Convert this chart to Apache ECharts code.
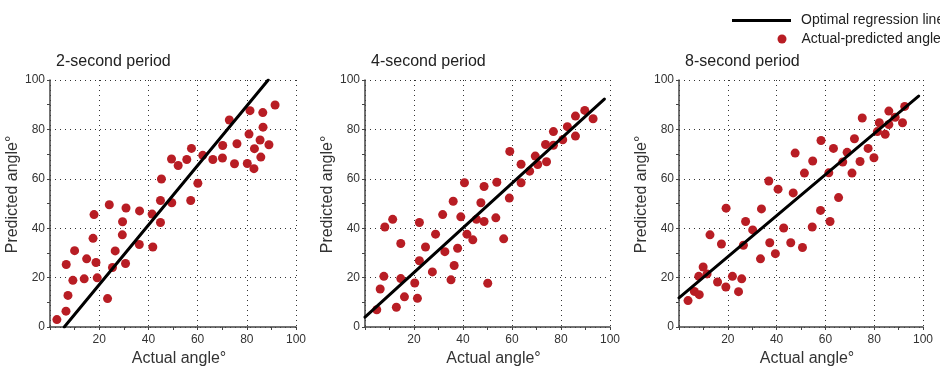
<!DOCTYPE html>
<html><head><meta charset="utf-8">
<script src="https://cdn.jsdelivr.net/npm/echarts@6/dist/echarts.min.js"></script>
<style>html,body{margin:0;padding:0;background:#fff}#c{width:940px;height:367px}</style>
</head><body><div id="c"></div>
<script>
const panelTitles = ['2-second period', '4-second period', '8-second period'];
const xName = 'Actual angle°';
const yName = 'Predicted angle°';
const lineName = 'Optimal regression line';
const dotName = 'Actual-predicted angle';

// 2-second period
const actual2 = [2.8,6.5,7.3,6.6,9.3,10.0,13.9,14.9,18.7,19.2,17.5,17.9,23.4,24.1,25.4,26.5,29.4,29.5,30.7,30.9,36.3,36.4,41.8,41.5,44.9,44.9,45.3,49.5,49.4,52.1,55.6,57.5,57.2,60.1,62.1,66.2,70.2,70.1,72.9,75.0,76.0,81.3,80.9,80.2,82.9,83.1,85.4,86.5,86.6,85.7,89.0,91.5];
const predicted2 = [3.0,6.4,12.8,25.3,18.9,30.9,19.5,27.6,26.1,19.9,35.9,45.5,11.5,49.5,24.1,30.8,37.3,42.6,25.7,48.2,33.4,47.0,32.4,45.7,42.3,51.2,59.9,50.3,68.0,65.4,67.8,72.3,51.2,58.2,69.5,67.8,73.5,68.4,83.8,66.1,74.2,87.6,78.1,66.2,64.1,72.2,75.7,86.8,80.9,68.8,73.8,89.9];
const regX2 = [5.8, 88.7];
const regY2 = [0, 100];

// 4-second period
const actual4 = [4.8,6.2,7.7,8.1,11.3,12.8,14.6,14.6,16.1,20.3,21.4,22.2,22.2,24.7,27.5,28.8,31.7,32.6,35.1,36.0,36.4,37.8,39.1,40.6,41.6,44.0,45.5,47.3,48.6,48.6,50.1,53.8,53.4,56.6,59.1,58.9,63.7,63.7,67.2,69.5,70.5,73.7,74.1,76.9,76.9,80.7,82.6,85.9,85.9,89.7,93.1];
const predicted4 = [7.0,15.4,20.5,40.5,43.6,8.0,19.6,33.8,12.2,17.8,11.6,26.8,42.3,32.4,22.3,37.6,45.5,30.5,19.1,50.9,24.9,31.9,44.6,58.4,37.6,35.3,43.6,50.3,56.9,42.7,17.7,58.6,44.2,35.7,71.1,52.2,65.9,58.4,63.1,69.2,65.8,73.9,66.9,79.1,73.6,75.8,81.1,85.4,77.3,87.7,84.3];
const regX4 = [0, 97.7];
const regY4 = [4.0, 92.3];

// 8-second period
const actual8 = [3.7,6.3,8.3,8.1,9.9,11.5,12.7,15.8,17.4,19.2,19.3,21.9,24.4,25.7,26.4,27.3,30.2,33.4,33.8,36.8,37.2,39.5,40.6,42.9,45.8,46.8,47.6,50.6,51.4,54.6,54.8,58.0,58.2,61.4,61.9,63.3,65.4,67.1,68.9,70.9,71.9,74.2,75.1,77.5,79.9,81.3,82.1,84.5,86.0,86.0,88.6,91.6,92.5];
const predicted8 = [10.7,14.4,13.1,20.5,24.3,21.5,37.3,18.2,33.6,16.2,48.1,20.5,14.3,19.5,33.1,42.7,39.3,27.6,47.8,59.1,34.1,29.7,55.8,40.1,34.1,54.3,70.4,32.2,62.3,40.5,67.2,47.2,75.5,62.4,42.7,72.3,52.4,66.8,70.7,62.3,76.2,67.0,84.6,72.3,68.5,79.1,82.7,78.0,87.4,82.0,84.9,82.7,89.3];
const regX8 = [0, 98.2];
const regY8 = [11.8, 93.5];

const panels = [
  {ax: actual2, pr: predicted2, rx: regX2, ry: regY2},
  {ax: actual4, pr: predicted4, rx: regX4, ry: regY4},
  {ax: actual8, pr: predicted8, rx: regX8, ry: regY8}
];
const zip = (a, b) => a.map((v, i) => [v, b[i]]);

const gridLefts = [50, 365, 679];
const gridWidths = [246, 245, 244];
const yNameGaps = [25, 27, 29];
const FONT = '"Liberation Sans", Arial, sans-serif';
const axisColor = '#444';
const dotColor = '#b81d24';

const option = {
  animation: false,
  backgroundColor: '#fff',
  textStyle: {fontFamily: FONT},
  title: panelTitles.map((t, i) => ({
    text: t, left: gridLefts[i] + 6, top: 54, padding: 0,
    textStyle: {fontSize: 16, fontWeight: 'normal', color: '#222', fontFamily: FONT}
  })),
  legend: [
    {data: [lineName], left: 732, top: 13.5, padding: 0, icon: 'rect', itemWidth: 59, itemHeight: 3,
     itemStyle: {color: '#000'}, textStyle: {fontSize: 14, color: '#222', fontFamily: FONT, padding: [0, 0, 0, 5]}},
    {data: [dotName], left: 777.5, top: 32, padding: 0, icon: 'circle', itemWidth: 19, itemHeight: 9,
     itemStyle: {color: dotColor, opacity: 1}, textStyle: {fontSize: 14, color: '#222', fontFamily: FONT, padding: [0, 0, 0, 5]}}
  ],
  grid: gridLefts.map((l, i) => ({left: l, top: 80, width: gridWidths[i], height: 247, outerBoundsMode: 'none', containLabel: false})),
  xAxis: [0, 1, 2].map(i => ({
    type: 'value', gridIndex: i, min: 0, max: 100, interval: 20,
    name: xName, nameLocation: 'middle', nameGap: 23,
    nameTextStyle: {fontSize: 16, color: '#333', fontFamily: FONT, padding: [0, 0, 0, 12]},
    axisLine: {show: true, onZero: false, lineStyle: {color: axisColor, width: 1.5}},
    axisTick: {show: true, length: 3, lineStyle: {color: axisColor}},
    minorTick: {show: true, splitNumber: 2, length: 3, lineStyle: {color: axisColor}},
    axisLabel: {fontSize: 12, color: '#333', margin: 7, showMinLabel: false, fontFamily: FONT},
    splitLine: {show: true, lineStyle: {color: '#333', type: [1, 4], width: 1}}
  })),
  yAxis: [0, 1, 2].map(i => ({
    type: 'value', gridIndex: i, min: 0, max: 100, interval: 20,
    name: yName, nameLocation: 'middle', nameGap: yNameGaps[i],
    nameTextStyle: {fontSize: 16, color: '#333', fontFamily: FONT, padding: [0, 0, 0, 18]},
    axisLine: {show: true, onZero: false, lineStyle: {color: axisColor, width: 1.5}},
    axisTick: {show: true, length: 3, lineStyle: {color: axisColor}},
    minorTick: {show: true, splitNumber: 2, length: 3, lineStyle: {color: axisColor}},
    axisLabel: {fontSize: 12, color: '#333', margin: 5, fontFamily: FONT},
    splitLine: {show: true, lineStyle: {color: '#333', type: [1, 4], width: 1}}
  })),
  series: []
};

panels.forEach((p, i) => {
  option.series.push({
    type: 'scatter', name: dotName, xAxisIndex: i, yAxisIndex: i,
    data: zip(p.ax, p.pr), symbolSize: 9, z: 2,
    itemStyle: {color: dotColor, opacity: 1}
  });
  option.series.push({
    type: 'line', name: lineName, xAxisIndex: i, yAxisIndex: i,
    data: zip(p.rx, p.ry), symbol: 'none', z: 3,
    lineStyle: {color: '#000', width: 3, cap: 'round'}
  });
});

const chart = echarts.init(document.getElementById('c'), null, {renderer: 'canvas'});
chart.setOption(option);
</script>
</body></html>
